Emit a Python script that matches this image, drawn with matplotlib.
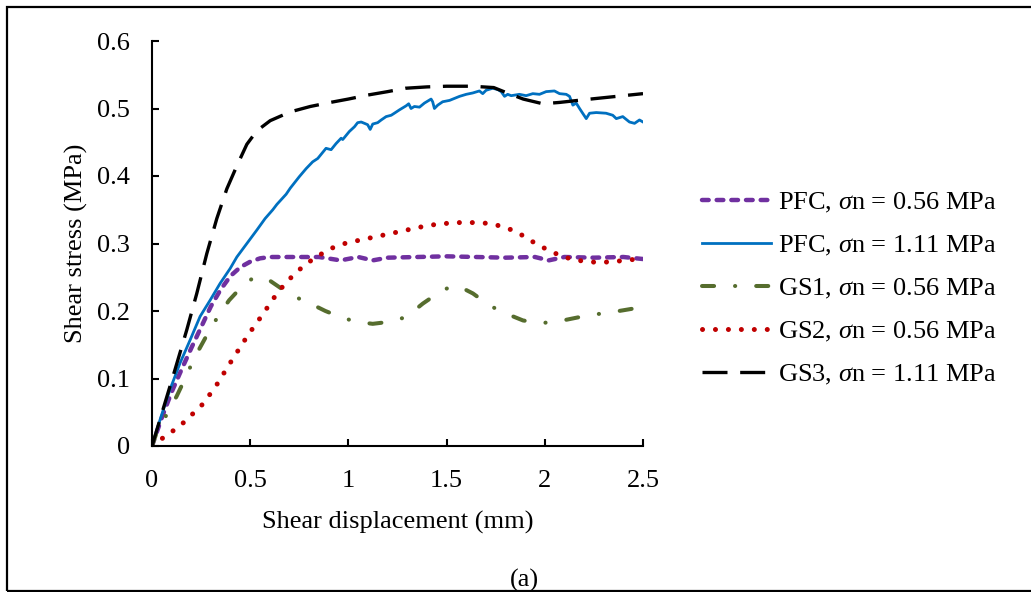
import matplotlib
matplotlib.use("Agg")
import matplotlib.pyplot as plt
from matplotlib.patches import Rectangle

plt.rcParams['font.family'] = ['Liberation Serif', 'DejaVu Serif']
plt.rcParams['mathtext.fontset'] = 'custom'
plt.rcParams['mathtext.rm'] = 'Liberation Serif'
plt.rcParams['mathtext.it'] = 'Liberation Serif:italic'

# Shear displacement (mm) / shear stress (MPa) for each test
pfc_056_x = [0, 0.05, 0.10, 0.15, 0.20, 0.25, 0.30, 0.35, 0.40, 0.45, 0.50, 0.55, 0.60,
             0.75, 0.85, 0.96, 1.05, 1.124, 1.20, 1.35, 1.50, 1.65, 1.80, 1.95, 2.02,
             2.10, 2.25, 2.40, 2.50]
pfc_056_y = [0, 0.042, 0.080, 0.113, 0.145, 0.176, 0.207, 0.232, 0.252, 0.265, 0.273, 0.278, 0.280,
             0.280, 0.280, 0.275, 0.280, 0.275, 0.279, 0.280, 0.281, 0.280, 0.279, 0.280, 0.275,
             0.280, 0.279, 0.280, 0.277]

pfc_111_x = [0, 0.041, 0.092, 0.143, 0.194, 0.245, 0.296, 0.347, 0.398, 0.432, 0.483, 0.534,
             0.576, 0.615, 0.636, 0.683, 0.704, 0.750, 0.785, 0.818, 0.844, 0.886, 0.912, 0.937,
             0.963, 0.971, 1.005, 1.031, 1.047, 1.065, 1.082, 1.098, 1.111, 1.124, 1.149, 1.167,
             1.192, 1.218, 1.234, 1.260, 1.294, 1.307, 1.319, 1.336, 1.362, 1.387, 1.421, 1.429,
             1.438, 1.455, 1.480, 1.515, 1.566, 1.600, 1.633, 1.667, 1.684, 1.701, 1.735, 1.761,
             1.778, 1.795, 1.811, 1.829, 1.871, 1.905, 1.939, 1.973, 2.007, 2.049, 2.075, 2.109,
             2.126, 2.143, 2.160, 2.177, 2.211, 2.228, 2.262, 2.312, 2.346, 2.364, 2.397, 2.431,
             2.457, 2.482, 2.500]
pfc_111_y = [0, 0.039, 0.084, 0.123, 0.157, 0.192, 0.216, 0.241, 0.263, 0.280, 0.300, 0.320,
             0.337, 0.350, 0.358, 0.373, 0.382, 0.399, 0.411, 0.421, 0.426, 0.441, 0.439, 0.448,
             0.456, 0.454, 0.466, 0.473, 0.479, 0.480, 0.478, 0.476, 0.469, 0.477, 0.479, 0.483,
             0.488, 0.490, 0.493, 0.498, 0.504, 0.507, 0.500, 0.503, 0.502, 0.508, 0.514, 0.510,
             0.500, 0.505, 0.510, 0.512, 0.518, 0.521, 0.523, 0.526, 0.522, 0.527, 0.530, 0.528,
             0.525, 0.518, 0.521, 0.519, 0.521, 0.519, 0.522, 0.521, 0.525, 0.526, 0.522, 0.521,
             0.518, 0.505, 0.508, 0.500, 0.485, 0.493, 0.494, 0.493, 0.490, 0.485, 0.488, 0.480,
             0.478, 0.483, 0.480]

gs1_x = [0, 0.024, 0.066, 0.126, 0.18, 0.211, 0.294, 0.347, 0.393, 0.444, 0.51, 0.55, 0.585,
         0.615, 0.665, 0.721, 0.806, 0.883, 0.96, 1.039, 1.124, 1.209, 1.294, 1.379, 1.464,
         1.52, 1.56, 1.634, 1.719, 1.804, 1.889, 1.973, 2.058, 2.143, 2.228, 2.313, 2.398, 2.5]
gs1_y = [0, 0.020, 0.042, 0.074, 0.107, 0.128, 0.172, 0.197, 0.216, 0.232, 0.248, 0.250, 0.248,
         0.242, 0.232, 0.222, 0.211, 0.200, 0.191, 0.184, 0.181, 0.184, 0.191, 0.211, 0.228,
         0.236, 0.237, 0.226, 0.208, 0.196, 0.186, 0.182, 0.184, 0.189, 0.194, 0.197, 0.201, 0.206]

gs2_x = [0, 0.051, 0.105, 0.158, 0.205, 0.252, 0.291, 0.328, 0.364, 0.398, 0.433, 0.468, 0.505,
         0.542, 0.580, 0.617, 0.656, 0.699, 0.745, 0.796, 0.848, 0.906, 0.967, 1.026, 1.090,
         1.155, 1.219, 1.282, 1.345, 1.410, 1.474, 1.539, 1.603, 1.668, 1.732, 1.797, 1.858,
         1.914, 1.970, 2.028, 2.086, 2.150, 2.215, 2.279, 2.344, 2.408, 2.473, 2.5]
gs2_y = [0, 0.011, 0.022, 0.034, 0.047, 0.060, 0.075, 0.090, 0.107, 0.123, 0.139, 0.155, 0.171,
         0.186, 0.202, 0.218, 0.233, 0.247, 0.260, 0.272, 0.282, 0.292, 0.299, 0.303, 0.307,
         0.311, 0.315, 0.319, 0.323, 0.327, 0.329, 0.331, 0.331, 0.331, 0.329, 0.324, 0.317,
         0.307, 0.297, 0.289, 0.281, 0.276, 0.273, 0.272, 0.273, 0.275, 0.277, 0.278]

gs3_x = [0, 0.06, 0.117, 0.177, 0.228, 0.279, 0.330, 0.381, 0.432, 0.483, 0.534, 0.602, 0.704,
         0.806, 0.908, 1.0, 1.1, 1.2, 1.29, 1.4, 1.5, 1.63, 1.74, 1.80, 1.89, 1.99, 2.075,
         2.2, 2.3, 2.4, 2.5]
gs3_y = [0, 0.058, 0.113, 0.172, 0.226, 0.285, 0.337, 0.381, 0.415, 0.447, 0.467, 0.482, 0.495,
         0.503, 0.509, 0.514, 0.520, 0.525, 0.530, 0.532, 0.533, 0.533, 0.531, 0.524, 0.514,
         0.507, 0.509, 0.513, 0.516, 0.519, 0.522]

series_labels = [r'PFC, $\sigma$n = 0.56 MPa', r'PFC, $\sigma$n = 1.11 MPa',
                 r'GS1, $\sigma$n = 0.56 MPa', r'GS2, $\sigma$n = 0.56 MPa',
                 r'GS3, $\sigma$n = 1.11 MPa']

x_ticks = [0, 0.5, 1, 1.5, 2, 2.5]
x_tick_labels = ['0', '0.5', '1', '1.5', '2', '2.5']
y_ticks = [0, 0.1, 0.2, 0.3, 0.4, 0.5, 0.6]
y_tick_labels = ['0', '0.1', '0.2', '0.3', '0.4', '0.5', '0.6']

W, H = 1031, 592
fig = plt.figure(figsize=(W / 100, H / 100), dpi=100)
ax = fig.add_axes([152 / W, 1 - 446 / H, (643 - 152) / W, (446 - 41) / H])

FS = 19

l1, = ax.plot(pfc_056_x, pfc_056_y, color='#7030A0', lw=3.2,
              linestyle=(0, (1.5, 1.8)), dash_capstyle='round', solid_capstyle='round')
l2, = ax.plot(pfc_111_x, pfc_111_y, color='#0070C0', lw=2.0, solid_joinstyle='round')
l3, = ax.plot(gs1_x, gs1_y, color='#566D2E', lw=2.9,
              linestyle=(0, (3.0, 5.2, 0.05, 5.2)), dash_capstyle='round')
l4, = ax.plot(gs2_x, gs2_y, color='#C00000', lw=3.6,
              linestyle=(0, (0.01, 2.58)), dash_capstyle='round')
l5, = ax.plot(gs3_x, gs3_y, color='black', lw=2.4,
              linestyle=(0, (7.5, 3.8)), dash_capstyle='butt')

ax.set_xlim(0, 2.5)
ax.set_ylim(0, 0.6)
ax.set_xticks(x_ticks)
ax.set_xticklabels(x_tick_labels)
ax.set_yticks(y_ticks)
ax.set_yticklabels(y_tick_labels)

for side in ['top', 'right']:
    ax.spines[side].set_visible(False)
for side in ['left', 'bottom']:
    ax.spines[side].set_linewidth(1.5)
    ax.spines[side].set_color('black')

ax.tick_params(axis='y', direction='in', length=5, width=1.5, labelsize=FS, pad=16, colors='black')
ax.tick_params(axis='x', direction='in', length=5, width=1.5, labelsize=FS, pad=17, colors='black')
ax.set_xlabel('Shear displacement (mm)', fontsize=FS, labelpad=14)
ax.set_ylabel('Shear stress (MPa)', fontsize=FS, labelpad=6)

fig.legend([l1, l2, l3, l4, l5], series_labels, loc='center left',
           bbox_to_anchor=(701.5 / W, 1 - 289 / H), frameon=False, fontsize=FS,
           handlelength=2.65, handletextpad=0.25, labelspacing=0.72,
           borderpad=0, borderaxespad=0)

fig.text(524 / W, 1 - 586.5 / H, '(a)', fontsize=FS, ha='center', va='baseline')

# outer frame of the panel
fig.add_artist(Rectangle((6.5 / W, 1 - 590.5 / H), 1.2, (590.5 - 6.5) / H,
                         transform=fig.transFigure, fill=False, lw=1.6,
                         edgecolor='black', clip_on=False))

fig.savefig('out.png', dpi=100)
